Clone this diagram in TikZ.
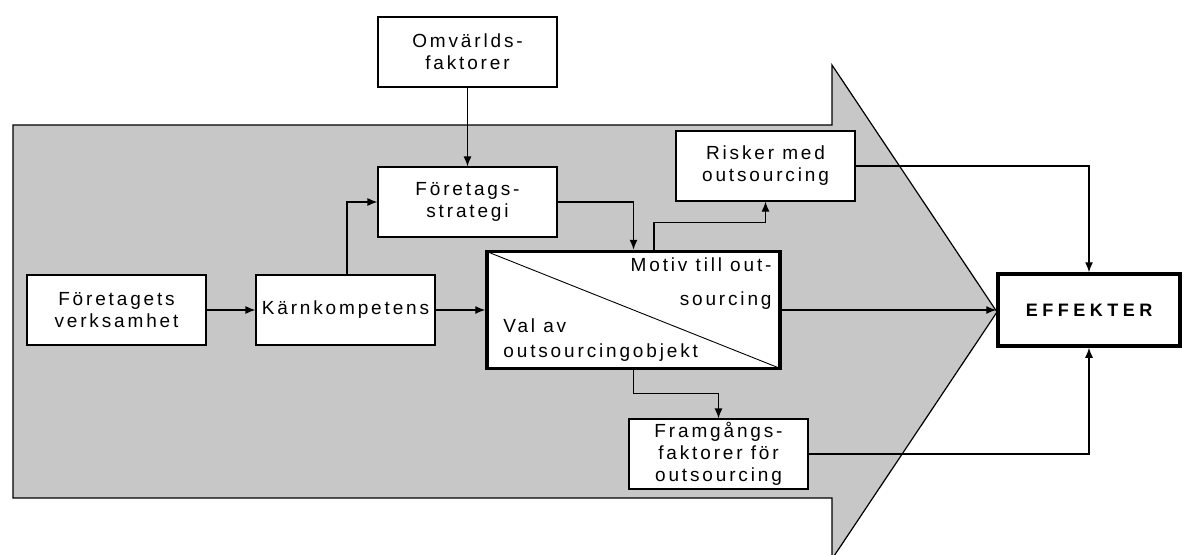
\documentclass[tikz,border=0pt]{standalone}
\usepackage{fontspec}
\setmainfont{Liberation Sans}[LetterSpace=15]
\usetikzlibrary{arrows.meta,calc}
\begin{document}
\begin{tikzpicture}[x=1pt,y=-1pt,
  box/.style={draw=black,line width=1.2pt,fill=white,minimum width=179pt,minimum height=70pt,inner sep=0pt,align=center,font=\fontsize{19}{22}\selectfont},
  thickbox/.style={draw=black,line width=3.5pt,fill=white,inner sep=0pt},
  lbl/.style={inner sep=0pt,font=\fontsize{19}{25}\selectfont},
  conn/.style={line width=1.2pt,-{Latex[length=10pt,width=8pt]}}]
\useasboundingbox (0,0) rectangle (1188,554);
\clip (0,0) rectangle (1188,554);
% big arrow
\draw[fill=black!22,line width=1.2pt] (13,125) -- (832,125) -- (832,65) -- (997,312) -- (832,559) -- (832,498) -- (13,498) -- cycle;
% nodes
\node[box] (omv) at (467.5,52) {Omvärlds-\\faktorer};
\node[box] (strat) at (467.5,202) {Företags-\\strategi};
\node[box] (risk) at (765.5,166) {Risker med\\outsourcing};
\node[box] (ftv) at (116.5,310) {Företagets\\verksamhet};
\node[box] (karn) at (345.5,310) {Kärnkompetens};
\node[box] (fram) at (718.5,454) {Framgångs-\\faktorer för\\outsourcing};
\node[thickbox,minimum width=293pt,minimum height=117pt] (mid) at (633.5,310) {};
\draw[line width=0.9pt] ($(mid.north west)+(2,2)$) -- ($(mid.south east)+(-2,-2)$);
\node[lbl,anchor=east] (motiv) at ($(mid.north east)+(-10,15)$) {Motiv till out-};
\node[lbl,anchor=east] (sourc) at ($(mid.north east)+(-10,51)$) {sourcing};
\node[lbl,anchor=west,align=left] (val) at ($(mid.west)+(18,30)$) {Val av\\outsourcingobjekt};
\node[thickbox,minimum width=182pt,minimum height=72pt,font=\fontsize{18}{22}\selectfont\bfseries\addfontfeature{LetterSpace=25}] (eff) at (1089,310) {EFFEKTER};
% connectors
\draw[conn] (omv.south) -- (strat.north);
\draw[conn] (ftv.east) -- (karn.west);
\draw[conn] (karn.east) -- (mid.west);
\draw[conn] ($(karn.north)+(1.5,0)$) |- (strat.west);
\draw[conn] (strat.east) -| (mid.north);
\draw[conn] ($(mid.north)+(20.5,0)$) -- ++(0,-27) -| (risk.south);
\draw[conn] (mid.south) -- ++(0,23) -| (fram.north);
\draw[conn] (mid.east) -- (eff.west);
\draw[conn] (risk.east) -| (eff.north);
\draw[conn] (fram.east) -| (eff.south);
\end{tikzpicture}
\end{document}
